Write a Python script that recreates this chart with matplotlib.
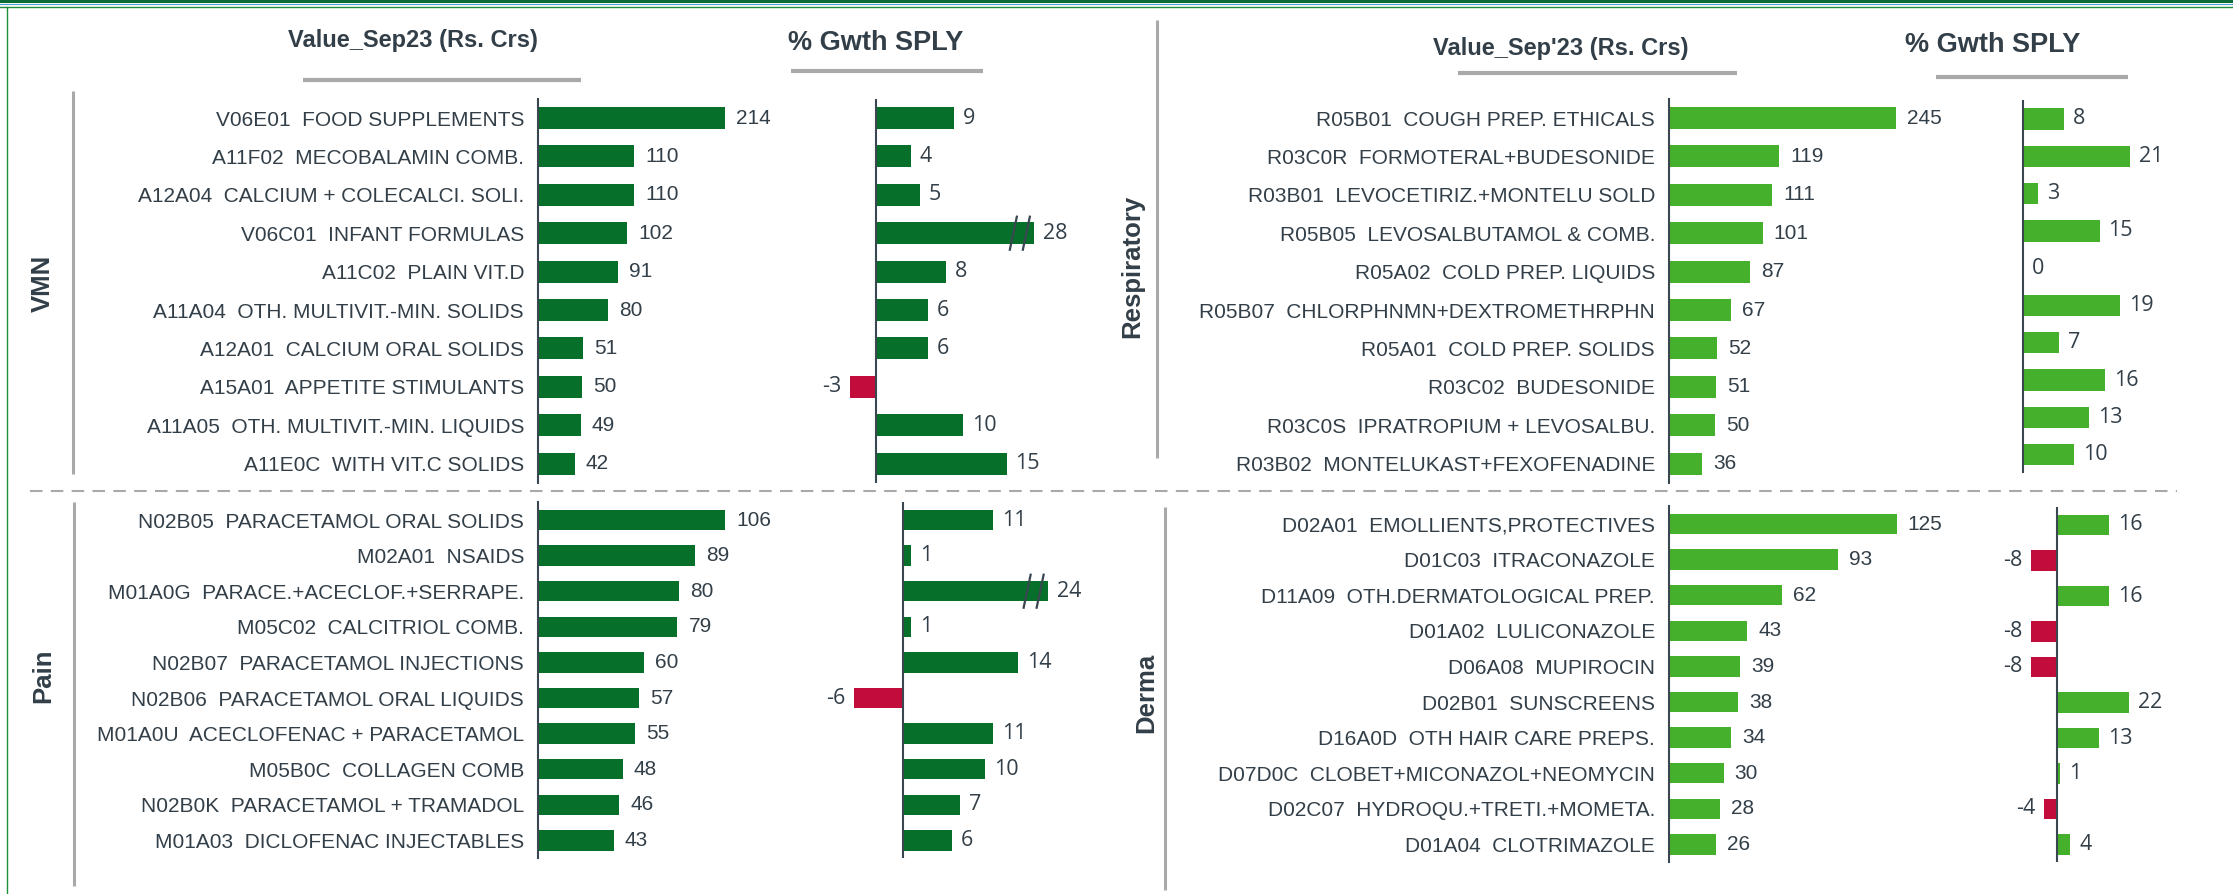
"""Top-10 sub-groups by value and growth for VMN, Pain, Respiratory and Derma."""

import matplotlib
matplotlib.use("Agg")
import matplotlib.pyplot as plt
from matplotlib.patches import Rectangle

W, H = 2233, 894

vmn_names = ["V06E01  FOOD SUPPLEMENTS", "A11F02  MECOBALAMIN COMB.",
             "A12A04  CALCIUM + COLECALCI. SOLI.", "V06C01  INFANT FORMULAS",
             "A11C02  PLAIN VIT.D", "A11A04  OTH. MULTIVIT.-MIN. SOLIDS",
             "A12A01  CALCIUM ORAL SOLIDS", "A15A01  APPETITE STIMULANTS",
             "A11A05  OTH. MULTIVIT.-MIN. LIQUIDS", "A11E0C  WITH VIT.C SOLIDS"]
vmn_value = [214, 110, 110, 102, 91, 80, 51, 50, 49, 42]
vmn_growth = [9, 4, 5, 28, 8, 6, 6, -3, 10, 15]

pain_names = ["N02B05  PARACETAMOL ORAL SOLIDS", "M02A01  NSAIDS",
              "M01A0G  PARACE.+ACECLOF.+SERRAPE.", "M05C02  CALCITRIOL COMB.",
              "N02B07  PARACETAMOL INJECTIONS", "N02B06  PARACETAMOL ORAL LIQUIDS",
              "M01A0U  ACECLOFENAC + PARACETAMOL", "M05B0C  COLLAGEN COMB",
              "N02B0K  PARACETAMOL + TRAMADOL", "M01A03  DICLOFENAC INJECTABLES"]
pain_value = [106, 89, 80, 79, 60, 57, 55, 48, 46, 43]
pain_growth = [11, 1, 24, 1, 14, -6, 11, 10, 7, 6]

resp_names = ["R05B01  COUGH PREP. ETHICALS", "R03C0R  FORMOTERAL+BUDESONIDE",
              "R03B01  LEVOCETIRIZ.+MONTELU SOLD", "R05B05  LEVOSALBUTAMOL & COMB.",
              "R05A02  COLD PREP. LIQUIDS", "R05B07  CHLORPHNMN+DEXTROMETHRPHN",
              "R05A01  COLD PREP. SOLIDS", "R03C02  BUDESONIDE",
              "R03C0S  IPRATROPIUM + LEVOSALBU.", "R03B02  MONTELUKAST+FEXOFENADINE"]
resp_value = [245, 119, 111, 101, 87, 67, 52, 51, 50, 36]
resp_growth = [8, 21, 3, 15, 0, 19, 7, 16, 13, 10]

derma_names = ["D02A01  EMOLLIENTS,PROTECTIVES", "D01C03  ITRACONAZOLE",
               "D11A09  OTH.DERMATOLOGICAL PREP.", "D01A02  LULICONAZOLE",
               "D06A08  MUPIROCIN", "D02B01  SUNSCREENS",
               "D16A0D  OTH HAIR CARE PREPS.", "D07D0C  CLOBET+MICONAZOL+NEOMYCIN",
               "D02C07  HYDROQU.+TRETI.+MOMETA.", "D01A04  CLOTRIMAZOLE"]
derma_value = [125, 93, 62, 43, 39, 38, 34, 30, 28, 26]
derma_growth = [16, -8, 16, -8, -8, 22, 13, 1, -4, 4]

TEXT = "#333f48"
AXIS = "#3a4650"
GRAY = "#a9a9a9"
DARK_GREEN = "#06702a"
LIGHT_GREEN = "#45b02c"
RED = "#c20c3b"
LABEL_FONT = ["Liberation Sans", "DejaVu Sans"]
GROWTH_FONT = ["Open Sans", "DejaVu Sans"]


def px_axes(fig, x, y, w, h):
    ax = fig.add_axes([x / W, 1 - (y + h) / H, w / W, h / H])
    ax.patch.set_alpha(0)
    for s in ["top", "right", "bottom"]:
        ax.spines[s].set_visible(False)
    ax.spines["left"].set_color(AXIS)
    ax.spines["left"].set_linewidth(1.5)
    ax.set_xticks([])
    return ax


def value_panel(fig, names, values, color, rows, x0, scale):
    y0, sp = rows
    width = 330
    ax = px_axes(fig, x0, y0 - 0.5 * sp, width, 10 * sp)
    idx = list(range(len(names)))
    ax.barh(idx, values, height=0.57, color=color)
    ax.set_xlim(0, width / scale)
    ax.set_ylim(len(names) - 0.5, -0.5)
    ax.set_yticks(idx)
    ax.set_yticklabels(names, fontsize=15, color=TEXT, family=LABEL_FONT)
    ax.tick_params(axis="y", length=0, pad=10)
    for i, v in enumerate(values):
        ax.annotate(str(v), (v, i), xytext=(8, 0), textcoords="offset points",
                    va="center", ha="left", fontsize=15, color=TEXT,
                    family=LABEL_FONT)
    return ax


def growth_panel(fig, values, color, rows, x0, scale, breaks=None):
    y0, sp = rows
    left, right = 100, 260
    ax = px_axes(fig, x0 - left, y0 - 0.5 * sp, left + right, 10 * sp)
    ax.spines["left"].set_visible(False)
    ax.axvline(0, color=AXIS, lw=1.5, zorder=3)
    breaks = breaks or {}
    idx = list(range(len(values)))
    shown = [breaks.get(i, v) for i, v in enumerate(values)]
    colors = [RED if v < 0 else color for v in values]
    ax.barh(idx, shown, height=0.57, color=colors)
    ax.set_xlim(-left / scale, right / scale)
    ax.set_ylim(len(values) - 0.5, -0.5)
    ax.set_yticks([])
    for i, (v, s) in enumerate(zip(values, shown)):
        if v < 0:
            ax.annotate(str(v), (s, i), xytext=(-6, 0), textcoords="offset points",
                        va="center", ha="right", fontsize=15.5, color=TEXT,
                        family=GROWTH_FONT)
        else:
            ax.annotate(str(v), (s, i), xytext=(6.5, 0), textcoords="offset points",
                        va="center", ha="left", fontsize=15.5, color=TEXT,
                        family=GROWTH_FONT)
    # axis-break slashes on capped bars
    for i, cap in breaks.items():
        dx = 3.5 / scale
        dy = 16.5 / sp
        for off in (21, 8):
            xc = cap - off / scale
            ax.plot([xc - dx, xc + dx], [i + dy, i - dy], color=AXIS, lw=1.6,
                    clip_on=False, zorder=4)
    return ax


fig = plt.figure(figsize=(W / 100, H / 100), dpi=100)
fig.patch.set_facecolor("white")

ov = fig.add_axes([0, 0, 1, 1])
ov.set_xlim(0, W)
ov.set_ylim(H, 0)
ov.axis("off")

# frame
ov.add_patch(Rectangle((0, 0), W, 3, color="#0a6b38", lw=0))
ov.plot([0, W], [3.8, 3.8], color="#4b9fcf", lw=0.8)
ov.plot([0, W], [6.5, 6.5], color="#1d8f3c", lw=1.0)
ov.plot([7, 7], [6.5, H], color="#1d8f3c", lw=1.0)

# headers
ov.text(413, 40, "Value_Sep23 (Rs. Crs)", ha="center", va="center", fontsize=17,
        fontweight="bold", color=TEXT, family=LABEL_FONT)
ov.text(876, 43, "% Gwth SPLY", ha="center", va="center", fontsize=19.5,
        fontweight="bold", color=TEXT, family=LABEL_FONT)
ov.text(1561, 49, "Value_Sep'23 (Rs. Crs)", ha="center", va="center", fontsize=17,
        fontweight="bold", color=TEXT, family=LABEL_FONT)
ov.text(1993, 45, "% Gwth SPLY", ha="center", va="center", fontsize=19.5,
        fontweight="bold", color=TEXT, family=LABEL_FONT)
for x1, x2, y in [(303, 581, 80), (791, 983, 71), (1458, 1737, 73), (1936, 2128, 77)]:
    ov.plot([x1, x2], [y, y], color=GRAY, lw=3, solid_capstyle="butt")

# group brackets and names
for x, y1, y2 in [(73, 91, 474), (74, 502, 886), (1157, 20, 458), (1165, 507, 890)]:
    ov.plot([x, x], [y1, y2], color=GRAY, lw=2.2, solid_capstyle="butt")
for x, y, name in [(43, 283, "VMN"), (43, 676, "Pain"),
                   (1132, 266, "Respiratory"), (1146, 693, "Derma")]:
    ov.text(x, y, name, rotation=90, ha="center", va="center", fontsize=18.5,
            fontweight="bold", color=TEXT, family=LABEL_FONT)

ov.plot([30, 2177], [491, 491], color=GRAY, lw=1.5, dashes=(6, 4))

value_panel(fig, vmn_names, vmn_value, DARK_GREEN, (118, 38.4), 538, 0.874)
growth_panel(fig, vmn_growth, DARK_GREEN, (118, 38.4), 876, 8.7, breaks={3: 18.2})

value_panel(fig, pain_names, pain_value, DARK_GREEN, (520, 35.6), 538, 1.764)
growth_panel(fig, pain_growth, DARK_GREEN, (520, 35.6), 903, 8.2, breaks={2: 17.7})

value_panel(fig, resp_names, resp_value, LIGHT_GREEN, (118, 38.4), 1669, 0.927)
growth_panel(fig, resp_growth, LIGHT_GREEN, (119, 37.3), 2023, 5.1)

value_panel(fig, derma_names, derma_value, LIGHT_GREEN, (524, 35.6), 1669, 1.82)
growth_panel(fig, derma_growth, LIGHT_GREEN, (525, 35.5), 2057, 3.25)

fig.savefig("out.png", dpi=100)
